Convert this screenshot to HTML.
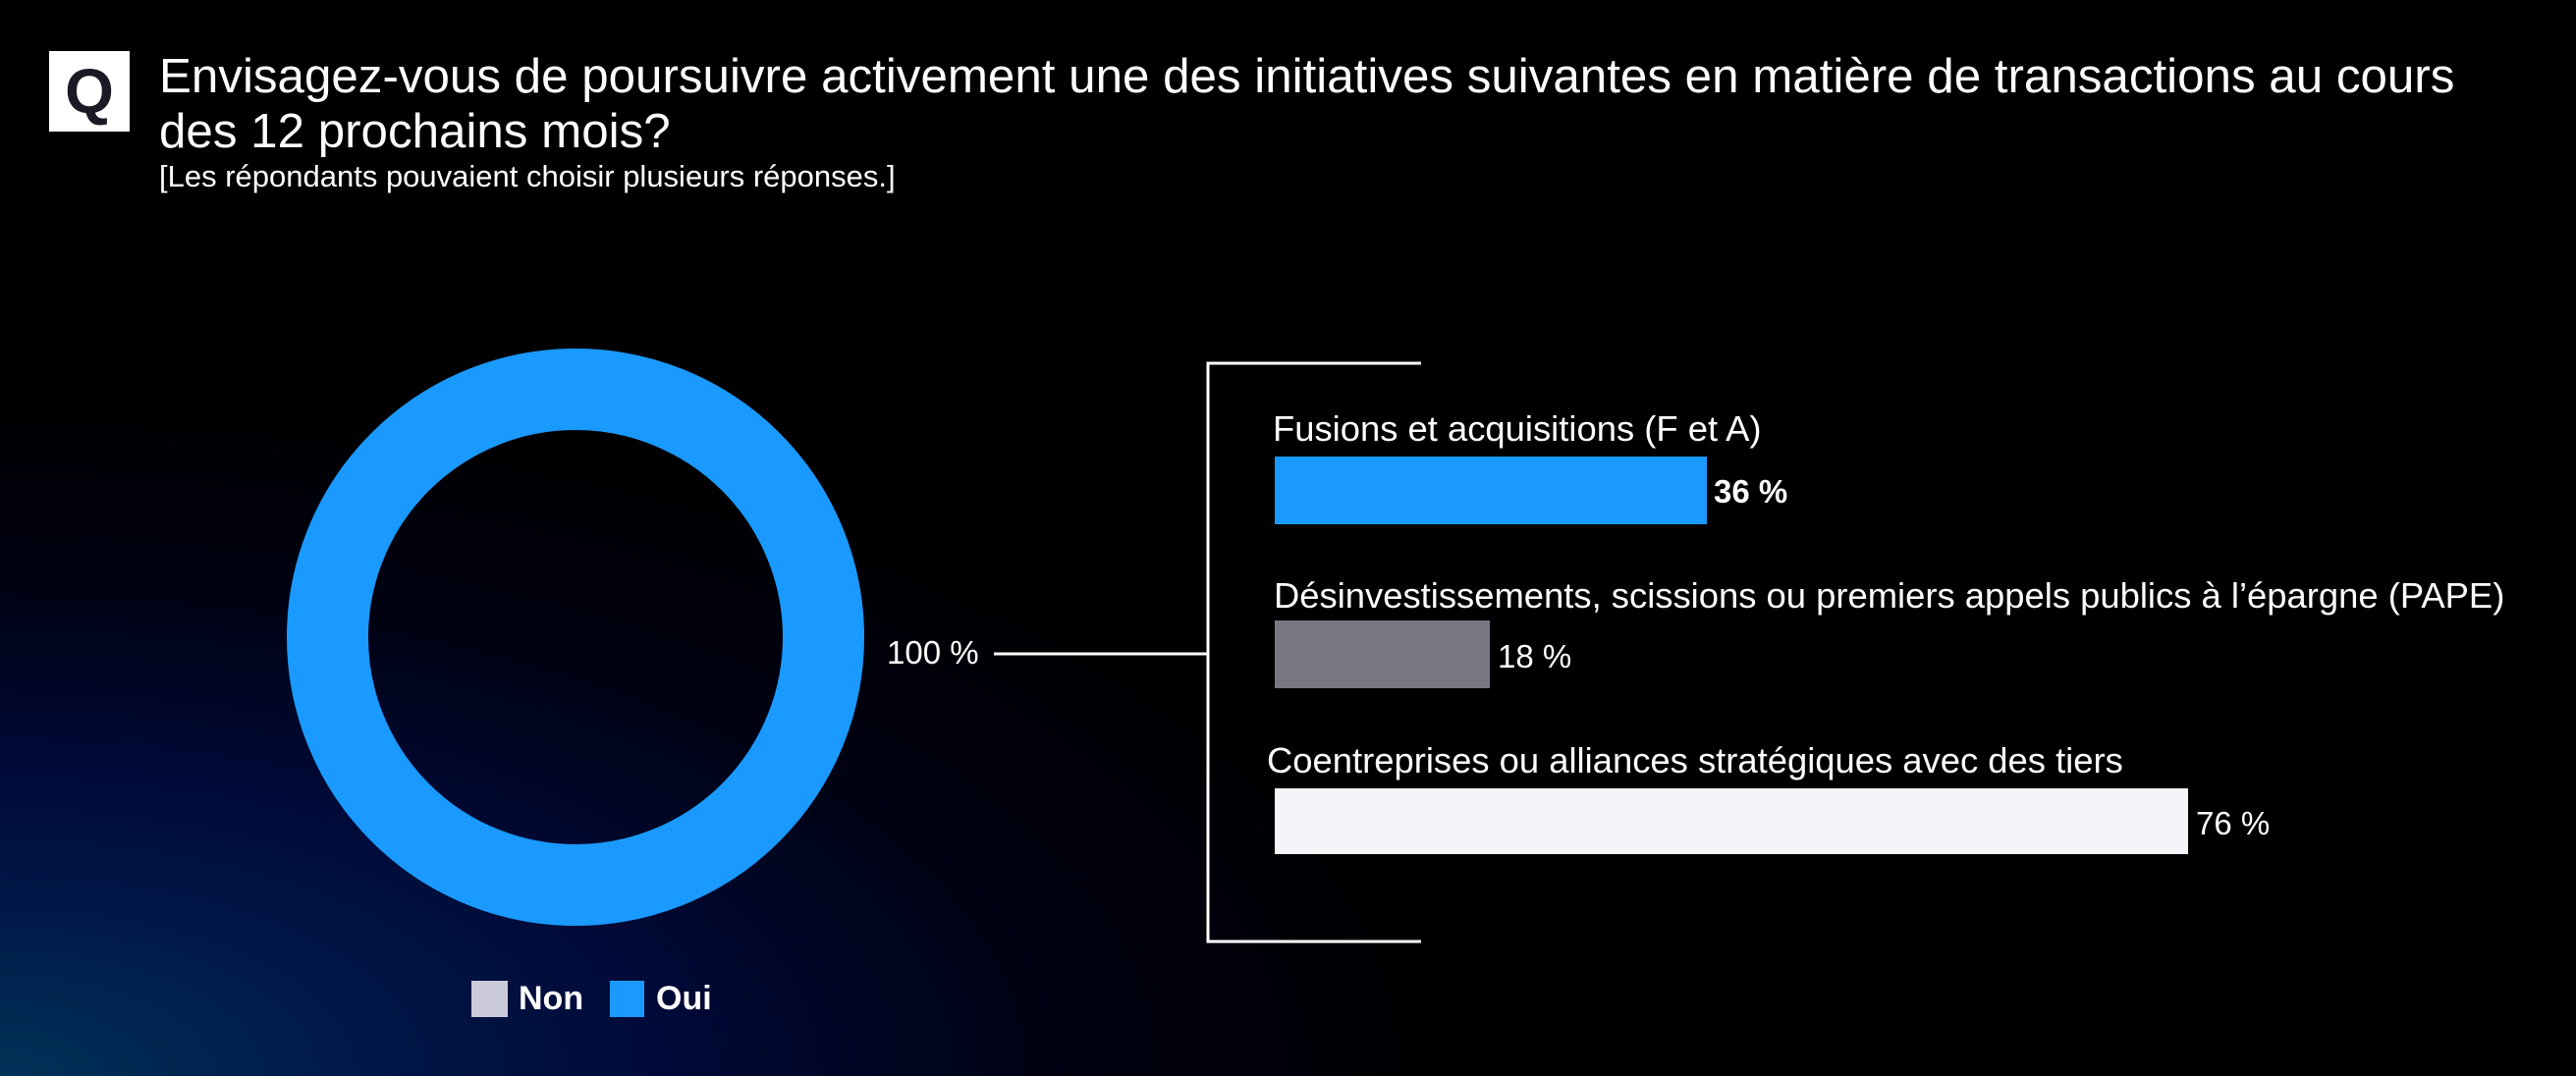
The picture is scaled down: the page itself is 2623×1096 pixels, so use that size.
<!DOCTYPE html>
<html><head><meta charset="utf-8"><style>
html,body{margin:0;padding:0}
body{width:2623px;height:1096px;overflow:hidden;position:relative;
background:radial-gradient(ellipse 1500px 700px at 0px 1096px,#003258 0%,#001848 25%,#000a38 45%,#000214 70%,#000 100%);
font-family:"Liberation Sans",sans-serif;color:#fff}
.t{position:absolute;white-space:nowrap}
</style></head><body>
<div style="position:absolute;left:50px;top:52px;width:82px;height:82px;background:#fff;color:#1a1a24;font:bold 64px 'Liberation Sans',sans-serif;text-align:center;line-height:82px">Q</div>
<div class="t" style="left:162px;top:50px;font-size:49.3px;line-height:56px">Envisagez-vous de poursuivre activement une des initiatives suivantes en matière de transactions au cours<br>des 12 prochains mois?</div>
<div class="t" style="left:162px;top:162px;font-size:31px">[Les répondants pouvaient choisir plusieurs réponses.]</div>
<svg width="2623" height="1096" style="position:absolute;left:0;top:0">
<circle cx="586" cy="649" r="252.5" fill="none" stroke="#1a9afe" stroke-width="83"/>
<line x1="1012" y1="666" x2="1230" y2="666" stroke="#fff" stroke-width="3"/>
<polyline points="1447,370 1230,370 1230,959 1447,959" fill="none" stroke="#fff" stroke-width="3"/>
<rect x="1298" y="465" width="440" height="69" fill="#1a9afe"/>
<rect x="1298" y="632" width="219" height="69" fill="#787784"/>
<rect x="1298" y="803" width="930" height="67" fill="#f5f5f9"/>
<rect x="480" y="999" width="37" height="37" fill="#cbcbd9"/>
<rect x="621" y="999" width="35" height="37" fill="#1a9afe"/>
</svg>
<div class="t" style="left:903px;top:646px;font-size:33px">100 %</div>
<div class="t" style="left:1296px;top:416px;font-size:36.4px">Fusions et acquisitions (F et A)</div>
<div class="t" style="left:1745px;top:482px;font-size:33px;font-weight:bold">36 %</div>
<div class="t" style="left:1297px;top:586px;font-size:36.4px">Désinvestissements, scissions ou premiers appels publics à l’épargne (PAPE)</div>
<div class="t" style="left:1525px;top:650px;font-size:33px">18 %</div>
<div class="t" style="left:1290px;top:754px;font-size:36.4px">Coentreprises ou alliances stratégiques avec des tiers</div>
<div class="t" style="left:2236px;top:820px;font-size:33px">76 %</div>
<div class="t" style="left:528px;top:998px;font-size:34px;font-weight:bold">Non</div>
<div class="t" style="left:668px;top:998px;font-size:34px;font-weight:bold">Oui</div>
</body></html>
